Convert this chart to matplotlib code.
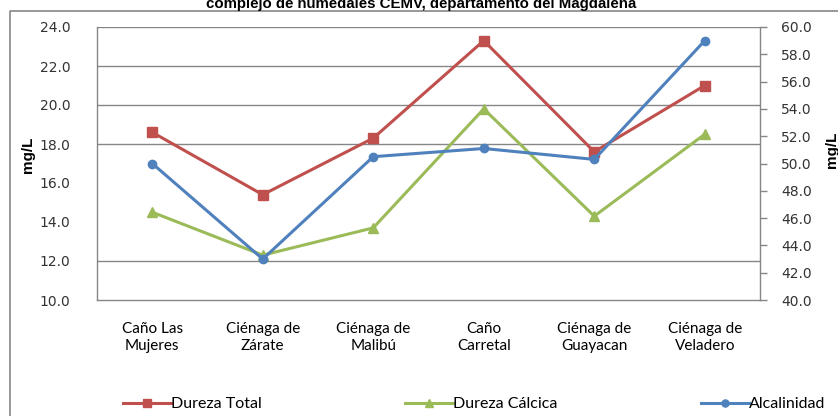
import matplotlib
matplotlib.use("Agg")
import matplotlib.pyplot as plt
from matplotlib.lines import Line2D

# data
sitios = ["Caño Las\nMujeres", "Ciénaga de\nZárate", "Ciénaga de\nMalibú",
          "Caño\nCarretal", "Ciénaga de\nGuayacan", "Ciénaga de\nVeladero"]
dureza_total = [18.6, 15.4, 18.3, 23.3, 17.6, 21.0]
dureza_calcica = [14.5, 12.3, 13.7, 19.8, 14.3, 18.5]
alcalinidad = [50.0, 43.0, 50.5, 51.1, 50.3, 59.0]   # eje derecho

left_ticks = [10.0, 12.0, 14.0, 16.0, 18.0, 20.0, 22.0, 24.0]
right_ticks = [40.0, 42.0, 44.0, 46.0, 48.0, 50.0, 52.0, 54.0, 56.0, 58.0, 60.0]
grid_vals = [12.0, 18.0, 20.0, 22.0, 24.0]

titulo = "complejo de humedales CEMV, departamento del Magdalena"

RED = "#C0504D"
GREEN = "#9BBB59"
BLUE = "#4F81BD"
GRAY = "#868686"

fig = plt.figure(figsize=(8.38, 4.16), dpi=100)
W, H = 838.0, 416.0

ax = fig.add_axes([97 / W, 1 - 300 / H, (760 - 97) / W, (300 - 27) / H])
ax2 = ax.twinx()

x = list(range(len(sitios)))

for v in grid_vals:
    ax.axhline(v, color=GRAY, lw=1.0, zorder=0)

l1, = ax.plot(x, dureza_total, color=RED, lw=2.2, marker="s", ms=6.5, label="Dureza Total", zorder=3)
l2, = ax.plot(x, dureza_calcica, color=GREEN, lw=2.2, marker="^", ms=7, label="Dureza Cálcica", zorder=3)
l3, = ax2.plot(x, alcalinidad, color=BLUE, lw=2.2, marker="o", ms=6, label="Alcalinidad", zorder=3)

ax.set_xlim(-0.5, len(sitios) - 0.5)
ax.set_ylim(10, 24)
ax2.set_ylim(40, 60)

ax.set_yticks(left_ticks)
ax.set_yticklabels(["%.1f" % v for v in left_ticks], fontsize=10, family="DejaVu Sans", color="#333333")
ax.tick_params(axis="y", length=0, pad=19)
ax2.set_yticks(right_ticks)
ax2.set_yticklabels(["%.1f" % v for v in right_ticks], fontsize=10, family="DejaVu Sans", color="#333333")
ax2.tick_params(axis="y", length=5, width=1, color=GRAY, pad=10)

ax.set_xticks(x)
ax.set_xticklabels(sitios, fontsize=11, family="Lato", linespacing=1.25)
ax.tick_params(axis="x", length=0, pad=16)

for a in (ax, ax2):
    a.spines["top"].set_visible(False)
    for s in ["left", "right", "bottom"]:
        a.spines[s].set_color(GRAY)
        a.spines[s].set_linewidth(1.0)
ax.spines["right"].set_visible(False)
ax2.spines["left"].set_visible(False)
ax2.spines["bottom"].set_visible(False)

fig.text(28 / W, 1 - 155 / H, "mg/L", rotation=90, ha="center", va="center",
         fontsize=11, fontweight="bold", family="Liberation Sans")
fig.text(832 / W, 1 - 150 / H, "mg/L", rotation=90, ha="center", va="center",
         fontsize=11, fontweight="bold", family="Liberation Sans")

# title, clipped at the top edge as in the reference
fig.text(421 / W, 1 - 8 / H, titulo, ha="center", va="baseline",
         fontsize=10.8, fontweight="bold", family="Liberation Sans")

# chart-area border (left and top only visible)
fig.add_artist(Line2D([10 / W, 10 / W, 1.0], [0.0, 1 - 10.5 / H, 1 - 10.5 / H],
                      transform=fig.transFigure, color=GRAY, lw=1.2))

leg = fig.legend([l1, l2, l3], ["Dureza Total", "Dureza Cálcica", "Alcalinidad"],
                 loc="center", bbox_to_anchor=(474 / W, 1 - 404 / H), ncol=3,
                 frameon=False, prop={"family": "Lato", "size": 11.5},
                 handlelength=3.0, handletextpad=0.0, columnspacing=9.0,
                 markerscale=0.85)

fig.savefig("out.png", dpi=100)
